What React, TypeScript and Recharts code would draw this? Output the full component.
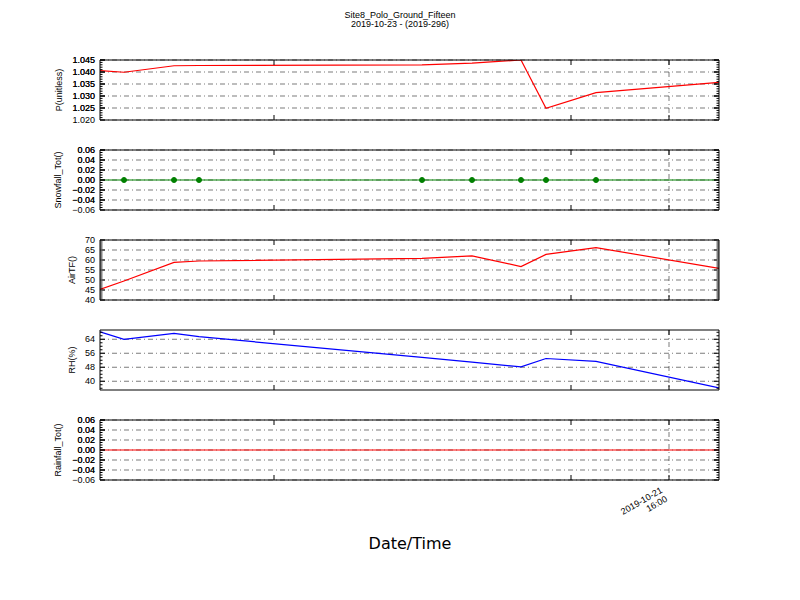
import React from 'react'
import { LineChart, Line, XAxis, YAxis, CartesianGrid } from 'recharts'

// hours since the first sample
const hours = [0, 0.96, 2.96, 3.96, 12.88, 14.88, 16.84, 17.84, 19.84, 24.76]
const pressure = [1.0406, 1.0399, 1.0426, 1.0427, 1.043, 1.0437, 1.045, 1.0249, 1.0314, 1.0357]
const snowfall = [0, 0, 0, 0, 0, 0, 0, 0, 0, 0]
const airTemp = [45.3, 49.5, 58.8, 59.5, 60.8, 62.1, 56.7, 62.8, 66.2, 55.8]
const humidity = [68.3, 64.0, 67.4, 65.5, 53.6, 50.9, 48.2, 53.0, 51.4, 36.2]
const rainfall = [0, 0, 0, 0, 0, 0, 0, 0, 0, 0]

const xDomain = [0, 24.76]
const xMajorTicks = [22.76]
const xMinorTicks = [6.96, 18.84]
const xTickLabel = ['2019-10-21', '16:00']

const pressureTicks = [1.02, 1.025, 1.03, 1.035, 1.04, 1.045]
const snowTicks = [-0.06, -0.04, -0.02, 0, 0.02, 0.04, 0.06]
const airTicks = [40, 45, 50, 55, 60, 65, 70]
const rhTicks = [40, 48, 56, 64]
const rainTicks = [-0.06, -0.04, -0.02, 0, 0.02, 0.04, 0.06]

const FONT = '"Liberation Sans", Arial, sans-serif'
const DASHDOT = '5 3 1 3'
const PLOT_H = 60

function minorTicks(domain: number[], start: number, step: number) {
  const out: number[] = []
  for (let v = start; v <= domain[1] + 1e-9; v += step) {
    if (v >= domain[0] - 1e-9) out.push(v)
  }
  return out
}

function fmt(v: number, digits: number) {
  const s = Math.abs(v).toFixed(digits)
  return v < -1e-9 ? '\u2212' + s : s
}

type Panel = {
  name: string
  label: string
  values: number[]
  color: string
  domain: number[]
  majors: number[]
  minorStep: number
  digits: number
  dots?: boolean
  labelX: number
  top: number
}

const panels: Panel[] = [
  { name: 'p', label: 'P(unitless)', values: pressure, color: '#ff0000', domain: [1.02, 1.045], majors: pressureTicks, minorStep: 0.001, digits: 3, labelX: 59, top: 60 },
  { name: 'snow', label: 'Snowfall_Tot()', values: snowfall, color: '#008000', domain: [-0.06, 0.06], majors: snowTicks, minorStep: 0.005, digits: 2, dots: true, labelX: 58, top: 150 },
  { name: 'air', label: 'AirTF()', values: airTemp, color: '#ff0000', domain: [40, 70], majors: airTicks, minorStep: 1, digits: 0, labelX: 72, top: 240 },
  { name: 'rh', label: 'RH(%)', values: humidity, color: '#0000ff', domain: [35, 69.3], majors: rhTicks, minorStep: 2, digits: 0, labelX: 72, top: 330 },
  { name: 'rain', label: 'Rainfall_Tot()', values: rainfall, color: '#ff0000', domain: [-0.06, 0.06], majors: rainTicks, minorStep: 0.005, digits: 2, labelX: 58, top: 420 },
]

const isMajor = (v: number, majors: number[]) => majors.some((m) => Math.abs(m - v) < 1e-7)

function YTick(props: any) {
  const { x, y, payload, side, majors, digits } = props
  const major = isMajor(payload.value, majors)
  const len = major ? 5 : 2.5
  const dir = side === 'left' ? 1 : -1
  return (
    <g>
      <line x1={x} x2={x + dir * len} y1={y} y2={y} stroke='#000' strokeWidth={1} />
      {side === 'left' && major && (
        <text x={x - 5} y={y} dy='0.35em' textAnchor='end' fontSize={9} fontFamily={FONT} fill='#000'>
          {fmt(payload.value, digits)}
        </text>
      )}
    </g>
  )
}

function XTick(props: any) {
  const { x, y, payload, side, showLabel } = props
  const major = isMajor(payload.value, xMajorTicks)
  const dir = side === 'bottom' ? -1 : 1
  return (
    <g>
      <line x1={x} x2={x} y1={y} y2={y + dir * 5} stroke='#000' strokeWidth={1} />
      {side === 'bottom' && major && showLabel && (
        <g transform={`translate(${x - 6},${y + 12}) rotate(-30)`}>
          <text x={0} y={0} textAnchor='end' fontSize={9} fontFamily={FONT} fill='#000'>{xTickLabel[0]}</text>
          <text x={0} y={10} textAnchor='end' fontSize={9} fontFamily={FONT} fill='#000'>{xTickLabel[1]}</text>
        </g>
      )}
    </g>
  )
}

function SnowDot(props: any) {
  const { cx, cy, index, stroke } = props
  if (index === 0 || index === hours.length - 1) return <g key={index} />
  return <circle key={index} cx={cx} cy={cy} r={2.5} fill={stroke} stroke={stroke} />
}

function PanelChart({ panel, last }: { panel: Panel; last: boolean }) {
  const data = hours.map((h, i) => ({ h, v: panel.values[i] }))
  const first = panel.majors[0] - Math.floor((panel.majors[0] - panel.domain[0]) / panel.minorStep + 1e-6) * panel.minorStep
  const yTicks = Array.from(new Set([...minorTicks(panel.domain, first, panel.minorStep), ...panel.majors]))
  const bottom = last ? 50 : 10
  const axisLine = { stroke: '#000', strokeWidth: 1 }
  return (
    <div style={{ position: 'absolute', left: 0, top: panel.top - 11 }}>
      <LineChart width={800} height={PLOT_H + 11 + 1 + bottom} data={data} margin={{ top: 10, right: 80, bottom, left: 40 }}>
        <CartesianGrid
          horizontalValues={panel.majors}
          verticalValues={xMajorTicks}
          stroke='#222'
          strokeWidth={0.6}
          strokeDasharray={DASHDOT}
        />
        <XAxis
          dataKey='h'
          type='number'
          domain={xDomain}
          ticks={[...xMinorTicks, ...xMajorTicks]}
          interval={0}
          height={1}
          tickSize={0}
          tickMargin={0}
          allowDataOverflow
          axisLine={axisLine}
          tick={(p: any) => <XTick {...p} side='bottom' showLabel={last} />}
        />
        <XAxis
          xAxisId='top'
          orientation='top'
          dataKey='h'
          type='number'
          domain={xDomain}
          ticks={[...xMinorTicks, ...xMajorTicks]}
          interval={0}
          height={1}
          tickSize={0}
          tickMargin={0}
          allowDataOverflow
          axisLine={axisLine}
          tick={(p: any) => <XTick {...p} side='top' />}
        />
        <YAxis
          type='number'
          domain={panel.domain}
          ticks={yTicks}
          interval={0}
          width={60}
          tickSize={0}
          tickMargin={0}
          allowDataOverflow
          axisLine={axisLine}
          tick={(p: any) => <YTick {...p} side='left' majors={panel.majors} digits={panel.digits} />}
        />
        <YAxis
          yAxisId='r'
          orientation='right'
          type='number'
          domain={panel.domain}
          ticks={yTicks}
          interval={0}
          width={1}
          tickSize={0}
          tickMargin={0}
          allowDataOverflow
          axisLine={axisLine}
          tick={(p: any) => <YTick {...p} side='right' majors={panel.majors} digits={panel.digits} />}
        />
        <Line
          dataKey='v'
          type='linear'
          stroke={panel.color}
          strokeWidth={1.2}
          dot={panel.dots ? (p: any) => <SnowDot {...p} /> : false}
          activeDot={false}
          isAnimationActive={false}
        />
      </LineChart>
      <div
        style={{
          position: 'absolute',
          left: panel.labelX,
          top: 11 + PLOT_H / 2,
          transform: 'translate(-50%, -50%) rotate(-90deg)',
          whiteSpace: 'nowrap',
          fontFamily: FONT,
          fontSize: 9,
        }}
      >
        {panel.label}
      </div>
    </div>
  )
}

export default function App() {
  return (
    <div style={{ position: 'absolute', left: 0, top: 0, width: 800, height: 600, background: '#fff' }}>
      <div style={{ position: 'absolute', left: 0, width: 800, top: 11, textAlign: 'center', fontFamily: FONT, fontSize: 9, lineHeight: '9px' }}>
        <div>Site8_Polo_Ground_Fifteen</div>
        <div>2019-10-23 - (2019-296)</div>
      </div>
      {panels.map((panel, i) => (
        <PanelChart key={panel.name} panel={panel} last={i === panels.length - 1} />
      ))}
      <div style={{ position: 'absolute', left: 310, width: 200, top: 534, textAlign: 'center', fontFamily: '"DejaVu Sans", sans-serif', fontSize: 16 }}>
        Date/Time
      </div>
    </div>
  )
}
